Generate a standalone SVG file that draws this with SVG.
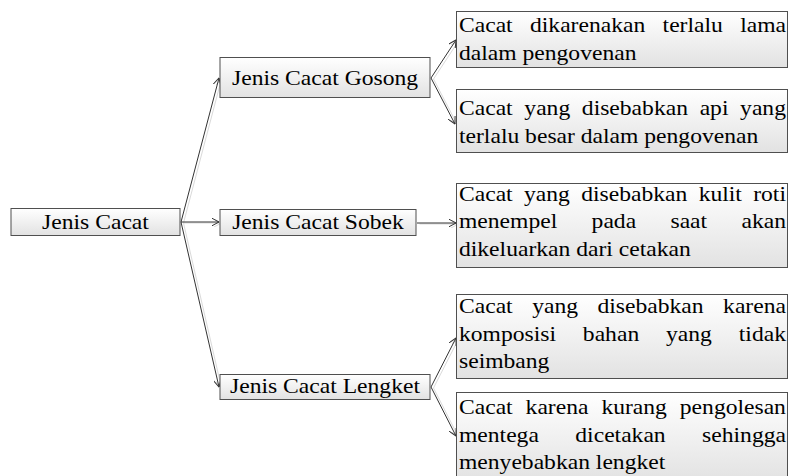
<svg xmlns="http://www.w3.org/2000/svg" width="791" height="476" viewBox="0 0 791 476">
<defs>
<linearGradient id="g" x1="0" y1="0" x2="0" y2="1">
<stop offset="0" stop-color="#ffffff"/>
<stop offset="1" stop-color="#e2e2e2"/>
</linearGradient>
<marker id="ah" viewBox="0 0 8 8" refX="7.5" refY="4" markerWidth="8" markerHeight="8" markerUnits="userSpaceOnUse" orient="auto">
<path d="M0,0 L7.5,4 L0,8" fill="none" stroke="#333333" stroke-width="1"/>
</marker>
<marker id="ahs" viewBox="0 0 8 8" refX="7.5" refY="4" markerWidth="8" markerHeight="8" markerUnits="userSpaceOnUse" orient="auto">
<path d="M0,0 L7.5,4 L0,8" fill="none" stroke="#dadada" stroke-width="1"/>
</marker>
</defs>
<style>
.box{fill:url(#g);stroke:#4f4f4f;stroke-width:1}
.t{font-family:"Liberation Serif","Times New Roman",serif;font-size:22px;fill:#000}
.c{text-anchor:middle}
.ln{fill:none;stroke:#333333;stroke-width:1;marker-end:url(#ah)}
.sh{fill:none;stroke:#dadada;stroke-width:1;marker-end:url(#ahs)}
</style>
<rect width="791" height="476" fill="#ffffff"/>
<g id="connectors">
<g transform="translate(2.5,1)">
<path class="sh" d="M181,222 L219,78"/>
<path class="sh" d="M181,222 L219,222"/>
<path class="sh" d="M181,222 L219,387"/>
<path class="sh" d="M431,78 L456,40"/>
<path class="sh" d="M431,78 L455,124"/>
<path class="sh" d="M417,223 L456,223"/>
<path class="sh" d="M431,387 L456,338"/>
<path class="sh" d="M431,387 L456,436"/>
</g>
<path class="ln" d="M181,222 L219,78"/>
<path class="ln" d="M181,222 L219,222"/>
<path class="ln" d="M181,222 L219,387"/>
<path class="ln" d="M431,78 L456,40"/>
<path class="ln" d="M431,78 L455,124"/>
<path class="ln" d="M417,223 L456,223"/>
<path class="ln" d="M431,387 L456,338"/>
<path class="ln" d="M431,387 L456,436"/>
</g>
<g id="root">
<rect class="box" x="11" y="208.5" width="169" height="27"/>
<text class="t c" transform="scale(1.072727 1)" x="89.03" y="229">Jenis Cacat</text>
</g>
<g id="gosong">
<rect class="box" x="220" y="57.5" width="210" height="40"/>
<text class="t c" transform="scale(1.072727 1)" x="302.97" y="85">Jenis Cacat Gosong</text>
</g>
<g id="sobek">
<rect class="box" x="220" y="209.5" width="196" height="26"/>
<text class="t c" transform="scale(1.072727 1)" x="296.44" y="229.5">Jenis Cacat Sobek</text>
</g>
<g id="lengket">
<rect class="box" x="220" y="374.5" width="210" height="25"/>
<text class="t c" transform="scale(1.072727 1)" x="302.97" y="393.5">Jenis Cacat Lengket</text>
</g>
<g id="gosong-1">
<rect class="box" x="456.5" y="11.5" width="331" height="56"/>
<g transform="scale(1.072727 1)">
<text class="t" y="32.5"><tspan x="427.88">Cacat</tspan><tspan x="494.07">dikarenakan</tspan><tspan x="617.68">terlalu</tspan><tspan x="690.02">lama</tspan></text>
<text class="t" x="427.88" y="60">dalam pengovenan</text>
</g>
</g>
<g id="gosong-2">
<rect class="box" x="456.5" y="89.5" width="331" height="63"/>
<g transform="scale(1.072727 1)">
<text class="t" y="115.5"><tspan x="427.88">Cacat</tspan><tspan x="488.81">yang</tspan><tspan x="542.41">disebabkan</tspan><tspan x="652.22">api</tspan><tspan x="689.94">yang</tspan></text>
<text class="t" x="427.88" y="143">terlalu besar dalam pengovenan</text>
</g>
</g>
<g id="sobek-1">
<rect class="box" x="456.5" y="183.5" width="331" height="84"/>
<g transform="scale(1.072727 1)">
<text class="t" y="201"><tspan x="427.88">Cacat</tspan><tspan x="488.50">yang</tspan><tspan x="541.80">disebabkan</tspan><tspan x="651.30">kulit</tspan><tspan x="702.17">roti</tspan></text>
<text class="t" y="228.5"><tspan x="427.88">menempel</tspan><tspan x="551.50">pada</tspan><tspan x="625.01">saat</tspan><tspan x="691.18">akan</tspan></text>
<text class="t" x="427.88" y="256">dikeluarkan dari cetakan</text>
</g>
</g>
<g id="lengket-1">
<rect class="box" x="456.5" y="294.5" width="331" height="84"/>
<g transform="scale(1.072727 1)">
<text class="t" y="313.5"><tspan x="427.88">Cacat</tspan><tspan x="496.10">yang</tspan><tspan x="557.00">disebabkan</tspan><tspan x="674.10">karena</tspan></text>
<text class="t" y="341"><tspan x="427.88">komposisi</tspan><tspan x="543.36">bahan</tspan><tspan x="620.92">yang</tspan><tspan x="688.71">tidak</tspan></text>
<text class="t" x="427.88" y="368.5">seimbang</text>
</g>
</g>
<g id="lengket-2">
<rect class="box" x="456.5" y="392.5" width="331" height="90"/>
<g transform="scale(1.072727 1)">
<text class="t" y="414.5"><tspan x="427.88">Cacat</tspan><tspan x="489.99">karena</tspan><tspan x="560.64">kurang</tspan><tspan x="633.75">pengolesan</tspan></text>
<text class="t" y="442"><tspan x="427.88">mentega</tspan><tspan x="536.32">dicetakan</tspan><tspan x="654.52">sehingga</tspan></text>
<text class="t" x="427.88" y="469.5">menyebabkan lengket</text>
</g>
</g>
</svg>
